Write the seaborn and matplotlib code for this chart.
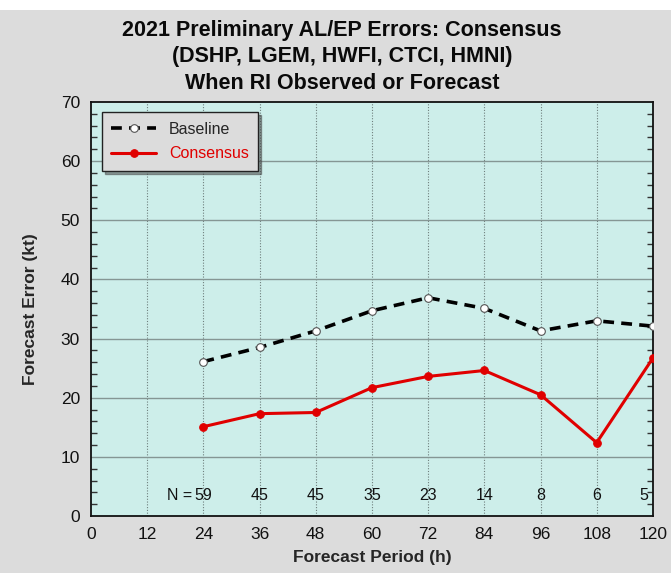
import matplotlib
matplotlib.use("Agg")
import matplotlib.pyplot as plt
import seaborn as sns
import pandas as pd
from matplotlib.patches import Rectangle

hours = [24, 36, 48, 60, 72, 84, 96, 108, 120]
baseline = [26.1, 28.5, 31.3, 34.7, 36.9, 35.1, 31.3, 33.0, 32.1]
consensus = [15.1, 17.3, 17.5, 21.7, 23.6, 24.6, 20.5, 12.4, 26.7]
counts = ["59", "45", "45", "35", "23", "14", "8", "6", "5"]
xticks = [0, 12, 24, 36, 48, 60, 72, 84, 96, 108, 120]
yticks = [0, 10, 20, 30, 40, 50, 60, 70]
minor_step = 2

sns.set_theme(style="ticks")
plt.rcParams['font.family'] = ['Liberation Sans', 'DejaVu Sans']

df = pd.DataFrame({"h": hours, "Baseline": baseline, "Consensus": consensus})

fig = plt.figure(figsize=(6.71, 5.73), dpi=100, facecolor='#dcdcdc')
fig.patches.append(Rectangle((0, 0.982), 1, 0.018, transform=fig.transFigure,
                             facecolor='white', edgecolor='none', zorder=0))
ax = fig.add_axes([0.1356, 0.0995, 0.8374, 0.7225])
ax.set_facecolor('#cdeeea')

for x in xticks[1:-1]:
    ax.axvline(x, color='#6f7f7d', lw=0.8, ls=(0, (1, 1.5)), zorder=1)
for y in yticks[1:-1]:
    ax.axhline(y, color='#859694', lw=1.0, zorder=1)

# inward minor tick marks on both sides
minor_vals = [v for v in range(minor_step, yticks[-1], minor_step) if v % 10]
ytrans = ax.get_yaxis_transform()
ax.hlines(minor_vals, 0, 0.011, transform=ytrans, color='#333333', lw=1.0, zorder=2)
ax.hlines(minor_vals, 0.989, 1, transform=ytrans, color='#333333', lw=1.0, zorder=2)

sns.lineplot(data=df, x="h", y="Baseline", ax=ax, color='black', lw=2.6,
             linestyle=(0, (3, 2)), marker='o', markersize=5.5,
             markerfacecolor='white', markeredgecolor='#555555',
             markeredgewidth=0.8, label='Baseline', zorder=3)
sns.lineplot(data=df, x="h", y="Consensus", ax=ax, color='#e00000', lw=2.2,
             marker='o', markersize=5.5, markeredgecolor='#e00000',
             label='Consensus', zorder=3)

for i, (h, n) in enumerate(zip(hours, counts)):
    xpos = h - 2 if i == len(hours) - 1 else h
    ax.text(xpos, 3.5, n, ha='center', va='center', fontsize=11.5, color='#111111', zorder=4)
ax.text(hours[0] - 2.4, 3.5, "N =", ha='right', va='center', fontsize=11.5,
        color='#111111', zorder=4)

ax.set_xlim(0, 120)
ax.set_ylim(0, 70)
ax.set_xticks(xticks)
ax.set_yticks(yticks)
ax.tick_params(axis='both', which='major', labelsize=12.5, length=0, pad=8,
               colors='#111111')
for s in ax.spines.values():
    s.set_color('#111111')
    s.set_linewidth(1.3)

ax.set_xlabel("Forecast Period (h)", fontsize=12.5, fontweight='bold', labelpad=6)
ax.set_ylabel("Forecast Error (kt)", fontsize=12.5, fontweight='bold', labelpad=16)
fig.suptitle("2021 Preliminary AL/EP Errors: Consensus\n(DSHP, LGEM, HWFI, CTCI, HMNI)\nWhen RI Observed or Forecast",
             x=0.51, y=0.965, va='top', fontsize=15.5, fontweight='bold', linespacing=1.33,
             color='#0a0a0a')

leg = ax.legend(loc='upper left', bbox_to_anchor=(0.005, 0.995), fontsize=11.5,
                frameon=True, fancybox=False, shadow=True, handlelength=2.8,
                borderpad=0.6, labelspacing=0.6)
leg.get_frame().set_facecolor('#dcdcdc')
leg.get_frame().set_edgecolor('#222222')
leg.get_frame().set_alpha(1)
leg.get_texts()[1].set_color('#e00000')

fig.savefig("out.png", dpi=100, facecolor=fig.get_facecolor())
